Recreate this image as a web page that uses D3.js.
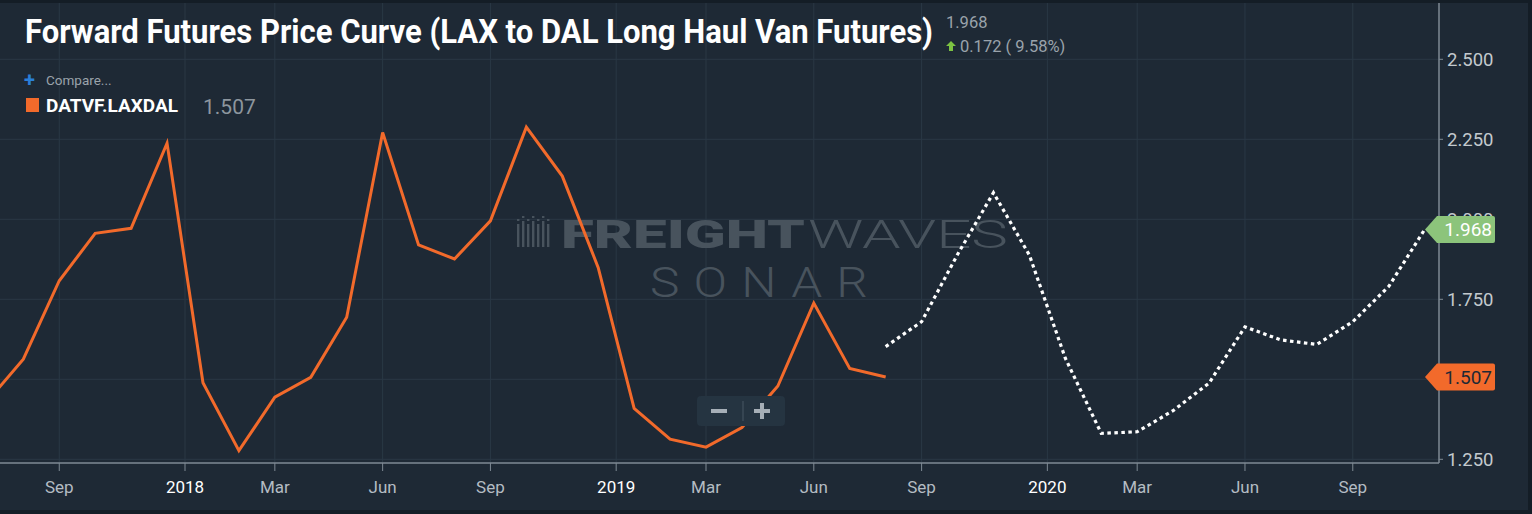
<!DOCTYPE html>
<html lang="en">
<head>
  <meta charset="UTF-8">
  <title>Forward Futures Price Curve</title>
  <style>
    html, body { margin: 0; padding: 0; background: #141d26; }
    #chart { width: 1532px; height: 514px; }
    text { font-family: Roboto, "Noto Sans", sans-serif; }
  </style>
  <script src="https://d3js.org/d3.v7.min.js"></script>
</head>
<body>
<div id="chart"></div>
<script>
  // Monthly points (Highstock-style ordinal axis: one slot per month)
  var months = [
    "2017-07", "2017-08", "2017-09", "2017-10", "2017-11", "2017-12",
    "2018-01", "2018-02", "2018-03", "2018-04", "2018-05", "2018-06",
    "2018-07", "2018-08", "2018-09", "2018-10", "2018-11", "2018-12",
    "2019-01", "2019-02", "2019-03", "2019-04", "2019-05", "2019-06",
    "2019-07", "2019-08", "2019-09", "2019-10", "2019-11", "2019-12",
    "2020-01", "2020-02", "2020-03", "2020-04", "2020-05", "2020-06",
    "2020-07", "2020-08", "2020-09", "2020-10", "2020-11"
  ];

  // Settled history, Jul 2017 - Aug 2019
  var historyValues = [
    1.431, 1.563, 1.808, 1.956, 1.972, 2.238,
    1.489, 1.277, 1.444, 1.506, 1.694, 2.271,
    1.920, 1.876, 1.995, 2.288, 2.135, 1.849,
    1.409, 1.313, 1.288, 1.349, 1.479, 1.738,
    1.534, 1.507
  ];

  // Forward curve, Aug 2019 - Nov 2020
  var forwardStart = "2019-08";
  var forwardValues = [
    1.602, 1.680, 1.890, 2.083, 1.888, 1.566,
    1.331, 1.336, 1.402, 1.488, 1.664, 1.623,
    1.609, 1.680, 1.790, 1.968
  ];

  var yTicks = [1.25, 1.5, 1.75, 2.0, 2.25, 2.5];
  var xTickMonths = [
    "2017-09", "2018-01", "2018-03", "2018-06", "2018-09",
    "2019-01", "2019-03", "2019-06", "2019-09",
    "2020-01", "2020-03", "2020-06", "2020-09"
  ];
  var monthNames = ["Jan", "Feb", "Mar", "Apr", "May", "Jun",
                    "Jul", "Aug", "Sep", "Oct", "Nov", "Dec"];

  var lastValue = 1.507;
  var curveLast = 1.968;
  var change = 0.172;
  var changePct = 9.58;

  // Layout
  var width = 1532;
  var height = 514;
  var plotRight = 1439;
  var plotTop = 3;
  var plotBottom = 463;

  var bg = "#1e2935";
  var gridColor = "#2a3845";
  var axisColor = "#7f8a94";
  var orange = "#f26a2b";
  var green = "#8cc47b";

  var xScale = d3.scaleLinear()
          .domain([0.351, 40.4])
          .range([0, plotRight]);
  var yScale = d3.scaleLinear()
          .domain([1.25, 2.5])
          .range([459.3, 59.3]);

  var svg = d3.select("#chart")
          .append("svg")
          .attr("width", width)
          .attr("height", height);

  svg.append("rect")
          .attr("x", 0).attr("y", plotTop)
          .attr("width", width - 4).attr("height", height - plotTop - 4)
          .attr("fill", bg);

  svg.append("clipPath").attr("id", "plot-clip")
          .append("rect")
          .attr("x", 0).attr("y", plotTop)
          .attr("width", plotRight).attr("height", plotBottom - plotTop);

  // Tick positions: year ticks sit between Dec and Jan slots
  var xTicks = xTickMonths.map(function(m) {
    var idx = months.indexOf(m);
    var mon = +m.slice(5, 7);
    var isYear = mon === 1;
    return {
      pos: isYear ? idx - 0.5 : idx,
      label: isYear ? m.slice(0, 4) : monthNames[mon - 1],
      year: isYear
    };
  });

  // Grid
  var grid = svg.append("g");
  grid.selectAll("line.v")
          .data(xTicks)
          .enter().append("line")
          .attr("x1", function(d) { return xScale(d.pos); })
          .attr("x2", function(d) { return xScale(d.pos); })
          .attr("y1", plotTop)
          .attr("y2", plotBottom)
          .attr("stroke", gridColor)
          .attr("stroke-width", 1);
  grid.selectAll("line.h")
          .data(yTicks)
          .enter().append("line")
          .attr("x1", 0)
          .attr("x2", plotRight)
          .attr("y1", function(d) { return yScale(d); })
          .attr("y2", function(d) { return yScale(d); })
          .attr("stroke", gridColor)
          .attr("stroke-width", 1);

  // Watermark
  var wm = svg.append("g").attr("fill", "#48535d");
  [0, 5, 10, 15, 20, 25, 30].forEach(function(dx, i) {
    wm.append("rect")
            .attr("x", 517 + dx).attr("y", i % 2 ? 221 : 224)
            .attr("width", 2.4).attr("height", i % 2 ? 26 : 23);
    wm.append("rect")
            .attr("x", 517 + dx).attr("y", i % 2 ? 216 : 219)
            .attr("width", 2.4).attr("height", 2);
  });
  wm.append("text")
          .attr("x", 561).attr("y", 248)
          .attr("font-size", 39).attr("font-weight", 900)
          .attr("font-family", "'DejaVu Sans', sans-serif")
          .attr("textLength", 244).attr("lengthAdjust", "spacingAndGlyphs")
          .text("FREIGHT");
  wm.append("text")
          .attr("x", 808).attr("y", 248)
          .attr("font-size", 39).attr("font-weight", 300)
          .attr("textLength", 200).attr("lengthAdjust", "spacingAndGlyphs")
          .text("WAVES");
  wm.append("text")
          .attr("x", 650).attr("y", 297)
          .attr("font-size", 42).attr("font-weight", 300)
          .attr("letter-spacing", 12)
          .attr("textLength", 232).attr("lengthAdjust", "spacingAndGlyphs")
          .text("SONAR");

  // Lines
  var line = d3.line()
          .x(function(d) { return xScale(d.i); })
          .y(function(d) { return yScale(d.v); });

  var historyPoints = historyValues.map(function(v, i) { return { i: i, v: v }; });
  var f0 = months.indexOf(forwardStart);
  var forwardPoints = forwardValues.map(function(v, i) { return { i: f0 + i, v: v }; });

  var plot = svg.append("g").attr("clip-path", "url(#plot-clip)");
  plot.append("path")
          .datum(historyPoints)
          .attr("d", line)
          .attr("fill", "none")
          .attr("stroke", orange)
          .attr("stroke-width", 3)
          .attr("stroke-linejoin", "miter");
  plot.append("path")
          .datum(forwardPoints)
          .attr("d", line)
          .attr("fill", "none")
          .attr("stroke", "#ffffff")
          .attr("stroke-width", 3.2)
          .attr("stroke-dasharray", "3.5,3.5");

  // X axis
  var xAxis = svg.append("g");
  xAxis.append("line")
          .attr("x1", 0).attr("x2", plotRight)
          .attr("y1", plotBottom).attr("y2", plotBottom)
          .attr("stroke", axisColor).attr("stroke-width", 1.5);
  var xt = xAxis.selectAll("g.tick")
          .data(xTicks)
          .enter().append("g")
          .attr("transform", function(d) { return "translate(" + xScale(d.pos) + ",0)"; });
  xt.append("line")
          .attr("y1", plotBottom).attr("y2", plotBottom + 8)
          .attr("stroke", axisColor).attr("stroke-width", 1);
  xt.append("text")
          .attr("y", 493)
          .attr("text-anchor", "middle")
          .attr("font-size", 17)
          .attr("fill", function(d) { return d.year ? "#ffffff" : "#b4bcc3"; })
          .text(function(d) { return d.label; });

  // Y axis (right)
  var yAxis = svg.append("g");
  yAxis.append("line")
          .attr("x1", plotRight).attr("x2", plotRight)
          .attr("y1", plotTop).attr("y2", plotBottom)
          .attr("stroke", axisColor).attr("stroke-width", 1.5);
  var yt = yAxis.selectAll("g.tick")
          .data(yTicks)
          .enter().append("g")
          .attr("transform", function(d) { return "translate(0," + yScale(d) + ")"; });
  yt.append("line")
          .attr("x1", plotRight).attr("x2", plotRight + 4)
          .attr("stroke", axisColor);
  yt.append("text")
          .attr("x", plotRight + 8)
          .attr("dy", "0.36em")
          .attr("font-size", 18.5)
          .attr("fill", "#c3c9ce")
          .text(function(d) { return d3.format(".3f")(d); });

  // Value flags on the y axis (they cover the tick labels, as in the source chart)
  function flag(value, color, textColor) {
    var y = yScale(value);
    var g = svg.append("g");
    g.append("path")
            .attr("d", "M" + (plotRight - 14) + "," + y +
                    " L" + (plotRight - 2) + "," + (y - 13.5) +
                    " L" + (plotRight + 54) + "," + (y - 13.5) +
                    " Q" + (plotRight + 56) + "," + (y - 13.5) + " " + (plotRight + 56) + "," + (y - 11.5) +
                    " L" + (plotRight + 56) + "," + (y + 11.5) +
                    " Q" + (plotRight + 56) + "," + (y + 13.5) + " " + (plotRight + 54) + "," + (y + 13.5) +
                    " L" + (plotRight - 2) + "," + (y + 13.5) + " Z")
            .attr("fill", color);
    g.append("text")
            .attr("x", plotRight + 53)
            .attr("y", y)
            .attr("dy", "0.36em")
            .attr("text-anchor", "end")
            .attr("font-size", 19)
            .attr("fill", textColor)
            .text(d3.format(".3f")(value));
  }
  flag(curveLast, green, "#ffffff");
  flag(lastValue, orange, "#1e2935");

  // Title and header info
  svg.append("text")
          .attr("x", 25).attr("y", 43)
          .attr("font-size", 33).attr("font-weight", 700)
          .attr("fill", "#ffffff")
          .attr("textLength", 908).attr("lengthAdjust", "spacingAndGlyphs")
          .text("Forward Futures Price Curve (LAX to DAL Long Haul Van Futures)");
  svg.append("text")
          .attr("x", 946).attr("y", 28)
          .attr("font-size", 16.5).attr("fill", "#9aa3ab")
          .text(d3.format(".3f")(curveLast));
  svg.append("path")
          .attr("d", "M951,41 L956,46 L953,46 L953,51 L949,51 L949,46 L946,46 Z")
          .attr("fill", "#7cc242");
  svg.append("text")
          .attr("x", 960).attr("y", 52)
          .attr("font-size", 16.5).attr("fill", "#9aa3ab")
          .text(d3.format(".3f")(change) + " ( " + changePct.toFixed(2) + "%)");

  // Legend
  svg.append("text")
          .attr("x", 24).attr("y", 87)
          .attr("font-size", 20).attr("font-weight", 700)
          .attr("fill", "#2a7fd8")
          .text("+");
  svg.append("text")
          .attr("x", 46).attr("y", 85)
          .attr("font-size", 13.5).attr("fill", "#9aa3ab")
          .text("Compare...");
  svg.append("rect")
          .attr("x", 26).attr("y", 98)
          .attr("width", 13).attr("height", 14)
          .attr("fill", orange);
  svg.append("text")
          .attr("x", 46).attr("y", 112)
          .attr("font-size", 18).attr("font-weight", 700)
          .attr("fill", "#ffffff")
          .attr("textLength", 132).attr("lengthAdjust", "spacingAndGlyphs")
          .text("DATVF.LAXDAL");
  svg.append("text")
          .attr("x", 203).attr("y", 114)
          .attr("font-size", 21).attr("fill", "#8d969e")
          .text(d3.format(".3f")(lastValue));

  // Zoom control
  var zc = svg.append("g");
  zc.append("rect")
          .attr("x", 697).attr("y", 396)
          .attr("width", 88).attr("height", 30)
          .attr("rx", 4)
          .attr("fill", "#253441");
  zc.append("rect")
          .attr("x", 711).attr("y", 409)
          .attr("width", 16).attr("height", 4)
          .attr("fill", "#a6afb7");
  zc.append("line")
          .attr("x1", 743).attr("x2", 743)
          .attr("y1", 401).attr("y2", 421)
          .attr("stroke", "#3d4b58").attr("stroke-width", 1.5);
  zc.append("rect")
          .attr("x", 754).attr("y", 409)
          .attr("width", 16).attr("height", 4)
          .attr("fill", "#a6afb7");
  zc.append("rect")
          .attr("x", 760).attr("y", 403)
          .attr("width", 4).attr("height", 16)
          .attr("fill", "#a6afb7");
</script>
</body>
</html>
